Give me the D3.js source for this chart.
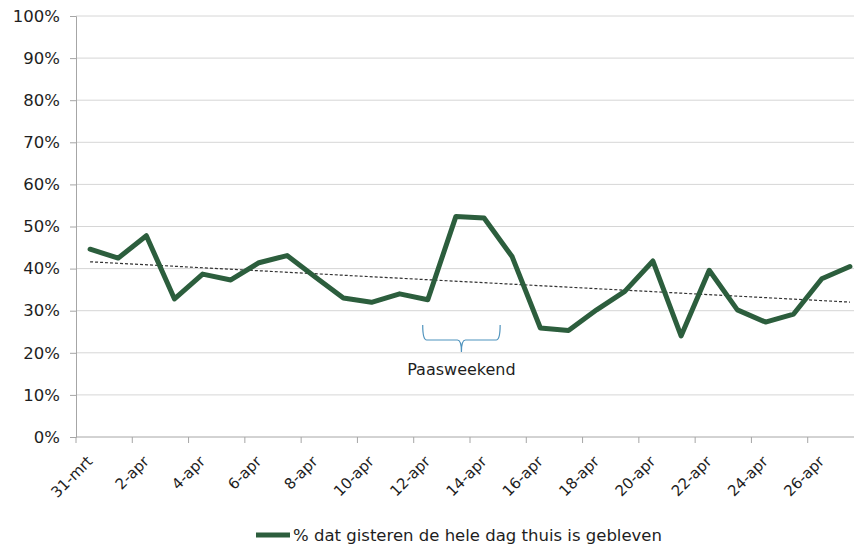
<!DOCTYPE html>
<html>
<head>
<meta charset="utf-8">
<script src="https://cdn.jsdelivr.net/npm/d3@7"></script>
<style>
  html, body { margin: 0; padding: 0; background: #fff; }
  svg { display: block; }
  text { font-family: "DejaVu Sans", Verdana, sans-serif; fill: #1e1e1e; }
</style>
</head>
<body>
<svg id="chart" width="854" height="548"></svg>
<script>
// Daily share of people who stayed home all day yesterday (%)
const categories = ["31-mrt","1-apr","2-apr","3-apr","4-apr","5-apr","6-apr","7-apr","8-apr","9-apr",
  "10-apr","11-apr","12-apr","13-apr","14-apr","15-apr","16-apr","17-apr","18-apr","19-apr",
  "20-apr","21-apr","22-apr","23-apr","24-apr","25-apr","26-apr","27-apr"];
const values = [44.6, 42.5, 47.8, 32.8, 38.7, 37.3, 41.4, 43.1, 38.0, 33.0,
  32.0, 34.0, 32.6, 52.4, 52.0, 42.8, 25.9, 25.3, 30.2, 34.6,
  41.8, 24.0, 39.6, 30.2, 27.3, 29.2, 37.6, 40.5];
const yTicks = [0, 10, 20, 30, 40, 50, 60, 70, 80, 90, 100];
const seriesName = "% dat gisteren de hele dag thuis is gebleven";
const holidayLabel = "Paasweekend";
const holidayRange = ["12-apr", "14-apr"];

const svg = d3.select("#chart");
const margin = { left: 76, top: 16, bottom: 111 };
const plotW = 788;            // plot area runs past the right edge of the canvas
const plotH = 548 - margin.top - margin.bottom;

const x = d3.scaleBand().domain(categories).range([margin.left, margin.left + plotW]);
const y = d3.scaleLinear().domain([0, 100]).range([margin.top + plotH, margin.top]);
const cx = c => x(c) + x.bandwidth() / 2;

// horizontal gridlines
svg.append("g").selectAll("line").data(yTicks.filter(t => t > 0)).join("line")
  .attr("x1", margin.left).attr("x2", margin.left + plotW)
  .attr("y1", d => y(d)).attr("y2", d => y(d))
  .attr("stroke", "#d6d6d6").attr("stroke-width", 1);

// y axis
const yAxis = svg.append("g").attr("transform", `translate(${margin.left},0)`)
  .call(d3.axisLeft(y).tickValues(yTicks).tickFormat(d => d + "%").tickSize(6).tickPadding(10));
yAxis.select(".domain").attr("stroke", "#a6a6a6");
yAxis.selectAll(".tick line").attr("stroke", "#a6a6a6");
yAxis.selectAll(".tick text").style("font-size", "16.5px").attr("fill", "#1e1e1e");

// x axis: tick marks on every other category boundary
const boundaries = categories.filter((c, i) => i % 2 === 0);
const xg = svg.append("g");
xg.append("line")
  .attr("x1", margin.left).attr("x2", margin.left + plotW)
  .attr("y1", y(0)).attr("y2", y(0)).attr("stroke", "#a6a6a6");
xg.selectAll("line.tk").data(boundaries).join("line").attr("class", "tk")
  .attr("x1", d => x(d)).attr("x2", d => x(d))
  .attr("y1", y(0)).attr("y2", y(0) + 6).attr("stroke", "#a6a6a6");
xg.selectAll("text").data(boundaries).join("text")
  .attr("transform", d => `translate(${cx(d) - 4},${y(0) + 18}) rotate(-45)`)
  .attr("text-anchor", "end")
  .attr("dy", "0.7em")
  .style("font-size", "15px")
  .text(d => d);

// linear trendline (least squares over the series)
const idx = values.map((v, i) => i);
const mx = d3.mean(idx), my = d3.mean(values);
const slope = d3.sum(idx, i => (i - mx) * (values[i] - my)) / d3.sum(idx, i => (i - mx) ** 2);
const icpt = my - slope * mx;
const last = categories.length - 1;
svg.append("line")
  .attr("x1", cx(categories[0])).attr("y1", y(icpt))
  .attr("x2", cx(categories[last])).attr("y2", y(icpt + slope * last))
  .attr("stroke", "#333").attr("stroke-width", 1.2).attr("stroke-dasharray", "3,2");

// main series
const line = d3.line().x((d, i) => cx(categories[i])).y(d => y(d));
svg.append("path").datum(values)
  .attr("d", line).attr("fill", "none")
  .attr("stroke", "#2c5e3d").attr("stroke-width", 5)
  .attr("stroke-linejoin", "round").attr("stroke-linecap", "round");

// Easter weekend brace
const bx0 = x(holidayRange[0]) + 9, bx1 = x(holidayRange[1]) + x.bandwidth() + 2;
const bm = (bx0 + bx1) / 2;
const bTop = 325, bMid = 340, bTip = 352;
svg.append("path")
  .attr("d", `M${bx0},${bTop} Q${bx0},${bMid} ${bx0 + 4},${bMid} L${bm - 4},${bMid} Q${bm},${bMid} ${bm},${bTip}` +
             ` Q${bm},${bMid} ${bm + 4},${bMid} L${bx1 - 4},${bMid} Q${bx1},${bMid} ${bx1},${bTop}`)
  .attr("fill", "none").attr("stroke", "#4f93bd").attr("stroke-width", 1.2);
svg.append("text").attr("x", bm).attr("y", 375).attr("text-anchor", "middle")
  .style("font-size", "16px").text(holidayLabel);

// legend
const lg = svg.append("g").attr("transform", "translate(256,535)");
lg.append("line").attr("x1", 0).attr("x2", 34).attr("y1", 0).attr("y2", 0)
  .attr("stroke", "#2c5e3d").attr("stroke-width", 5);
lg.append("text").attr("x", 37).attr("y", 0).attr("dy", "0.35em")
  .style("font-size", "16.5px").text(seriesName);
</script>
</body>
</html>
